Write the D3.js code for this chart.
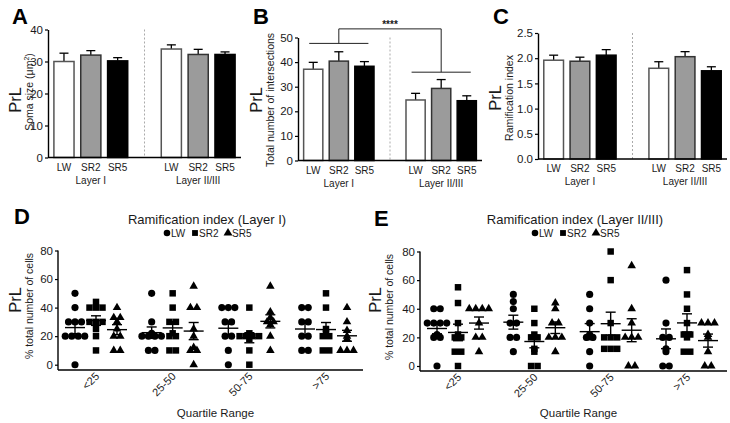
<!DOCTYPE html>
<html><head><meta charset="utf-8">
<script src="https://cdn.jsdelivr.net/npm/d3@7"></script>
<style>body{margin:0;background:#fff}svg{display:block;font-family:"Liberation Sans",Arial,sans-serif}</style>
</head><body><svg id="c" width="730" height="423"></svg>
<script>
// ---------- data ----------
const groups = ["LW", "SR2", "SR5"];
const layers = ["Layer I", "Layer II/III"];
// order: Layer I LW, SR2, SR5, Layer II/III LW, SR2, SR5
const somaMean = [30.0, 32.0, 30.2, 33.9, 32.2, 32.2];
const somaSem  = [2.6, 1.4, 1.0, 1.3, 1.6, 0.8];
const interMean = [37.1, 40.4, 38.3, 24.6, 29.3, 24.3];
const interSem  = [2.8, 3.8, 1.9, 2.7, 3.6, 2.0];
const ramMean = [1.96, 1.94, 2.06, 1.80, 2.03, 1.75];
const ramSem  = [0.10, 0.08, 0.11, 0.13, 0.10, 0.08];
const somaTicks = [0, 10, 20, 30, 40];
const interTicks = [0, 10, 20, 30, 40, 50];
const ramTicks = [0, 0.5, 1.0, 1.5, 2.0, 2.5];
// significance bracket levels in panel B (data units)
const sigLayerLevels = [47.6, 35.9];
const sigTopLevel = 53.5;

const quartiles = ["<25", "25-50", "50-75", ">75"];
const pctTicks = [0, 20, 40, 60, 80];
// Panel D: Layer I  (per quartile, per group)
const dLW  = [[50,40,30,30,30,20,20,20,20,0],[50,30,22,20,20,20,20,10,10],[40,40,40,30,30,20,20,10,0],[40,40,30,30,20,20,10,10]];
const dSR2 = [[44,40,40,40,30,30,30,25,20,10],[50,40,30,30,22,20,20,10,10],[40,22,20,20,20,20,18,10,0],[50,40,25,22,20,20,10,10]];
const dSR5 = [[40,33,33,30,25,20,20,10,10],[55,40,40,25,20,12,10,10,0],[55,37,33,30,30,28,20,10],[40,30,24,20,18,10,10,10]];
// Panel E: Layer II/III
const eLW  = [[40,40,30,30,30,30,22,20,20,0],[50,45,40,30,30,20,20,10],[50,40,30,22,20,20,10,0],[60,30,20,20,12,10,0,0]];
const eSR2 = [[55,44,30,22,20,20,10,10,0],[40,30,22,20,20,12,10,0,0],[80,60,30,20,20,20,12,12,12],[67,50,40,30,22,22,20,10,10]];
const eSR5 = [[40,40,40,40,30,20,20,10],[44,40,30,30,20,20,20,10],[70,40,30,20,20,20,0,0],[30,30,30,22,20,10,0,0]];

// ---------- drawing ----------
const svg = d3.select("#c");
const ink = "#1a1a1a";
const fills = {LW: "#ffffff", SR2: "#9b9b9b", SR5: "#000000"};
const strokes = {LW: "#555", SR2: "#333", SR5: "#000"};

function letter(t, x, y) {
  svg.append("text").attr("x", x).attr("y", y).attr("font-size", 22).attr("font-weight", "bold")
    .attr("fill", "#000").text(t);
}
function ylabels(prlX, subX, cy, sub, supText, prlY) {
  svg.append("text").attr("transform", `translate(${prlX},${prlY || cy}) rotate(-90)`).attr("text-anchor", "middle")
    .attr("font-size", 16.5).attr("fill", ink).text("PrL");
  const t = svg.append("text").attr("transform", `translate(${subX},${cy}) rotate(-90)`).attr("text-anchor", "middle")
    .attr("font-size", 10.5).attr("fill", ink).text(sub);
  if (supText) {
    t.append("tspan").attr("font-size", 7).attr("dy", -4).text(supText);
    t.append("tspan").attr("dy", 4).text(")");
  }
}

function barPanel(o) {
  const slots = ["I|LW", "I|SR2", "I|SR5", "gap", "II|LW", "II|SR2", "II|SR5"];
  const x = d3.scaleBand().domain(slots).range([o.x0, o.x1]).paddingInner(0.25).paddingOuter(0.22);
  const y = d3.scaleLinear().domain([0, o.max]).range([o.yb, o.yt]);
  const g = svg.append("g");
  g.append("line").attr("x1", x("gap") + x.bandwidth() / 2).attr("x2", x("gap") + x.bandwidth() / 2)
    .attr("y1", y(o.max)).attr("y2", y(0)).attr("stroke", "#aaa").attr("stroke-dasharray", "2,2");
  const data = [];
  ["I", "II"].forEach((L, li) => groups.forEach((s, si) => data.push({key: L + "|" + s, s, m: o.means[li * 3 + si], e: o.sems[li * 3 + si]})));
  data.forEach(d => {
    const cx = x(d.key) + x.bandwidth() / 2;
    g.append("line").attr("x1", cx).attr("x2", cx).attr("y1", y(d.m)).attr("y2", y(d.m + d.e)).attr("stroke", "#000").attr("stroke-width", 1.3);
    g.append("line").attr("x1", cx - 4.5).attr("x2", cx + 4.5).attr("y1", y(d.m + d.e)).attr("y2", y(d.m + d.e)).attr("stroke", "#000").attr("stroke-width", 1.3);
  });
  g.selectAll("rect.b").data(data).join("rect")
    .attr("x", d => x(d.key)).attr("width", x.bandwidth())
    .attr("y", d => y(d.m)).attr("height", d => y(0) - y(d.m))
    .attr("fill", d => fills[d.s]).attr("stroke", d => strokes[d.s]).attr("stroke-width", 1.5);
  const ax = g.append("g").attr("transform", `translate(${o.x0},0)`)
    .call(d3.axisLeft(y).tickValues(o.ticks).tickFormat(o.fmt).tickSize(3).tickSizeOuter(0).tickPadding(2));
  ax.select(".domain").attr("stroke", "#000").attr("stroke-width", 1.4);
  ax.selectAll(".tick line").attr("stroke", "#000").attr("stroke-width", 1.2);
  ax.selectAll(".tick text").attr("font-size", 11.5).attr("fill", ink).attr("font-family", "Liberation Sans, Arial, sans-serif");
  g.append("line").attr("x1", o.x0).attr("x2", o.x1).attr("y1", y(0)).attr("y2", y(0)).attr("stroke", "#000").attr("stroke-width", 1.4);
  data.forEach(d => {
    g.append("text").attr("x", x(d.key) + x.bandwidth() / 2).attr("y", y(0) + 13).attr("text-anchor", "middle")
      .attr("font-size", 10).attr("fill", ink).text(d.s);
  });
  ["I", "II"].forEach((L, li) => {
    g.append("text").attr("x", x(L + "|SR2") + x.bandwidth() / 2).attr("y", y(0) + 26).attr("text-anchor", "middle")
      .attr("font-size", 10).attr("fill", ink).text(layers[li]);
  });
  return {x, y, g};
}

// Panel A
letter("A", 12, 24);
ylabels(21, 33, 92, "Soma size (μm", "2", 100);
barPanel({x0: 48, x1: 241, yb: 157.5, yt: 29.5, max: 40, ticks: somaTicks, fmt: d3.format("d"), means: somaMean, sems: somaSem});

// Panel B
letter("B", 253, 24);
ylabels(262, 274, 100, "Total number of intersections");
const B = barPanel({x0: 298, x1: 482, yb: 160.5, yt: 37.5, max: 50, ticks: interTicks, fmt: d3.format("d"), means: interMean, sems: interSem});
(function () {
  const {x, y, g} = B; const bw = x.bandwidth();
  ["I", "II"].forEach((L, li) => {
    g.append("line").attr("x1", x(L + "|LW") + bw / 2 - 4).attr("x2", x(L + "|SR5") + bw / 2 + 4)
      .attr("y1", y(sigLayerLevels[li])).attr("y2", y(sigLayerLevels[li])).attr("stroke", "#222").attr("stroke-width", 1);
    g.append("line").attr("x1", x(L + "|SR2") + bw / 2).attr("x2", x(L + "|SR2") + bw / 2)
      .attr("y1", y(sigLayerLevels[li])).attr("y2", y(sigTopLevel)).attr("stroke", "#222").attr("stroke-width", 1);
  });
  g.append("line").attr("x1", x("I|SR2") + bw / 2).attr("x2", x("II|SR2") + bw / 2)
    .attr("y1", y(sigTopLevel)).attr("y2", y(sigTopLevel)).attr("stroke", "#222").attr("stroke-width", 1);
  g.append("text").attr("x", x("gap") + bw / 2).attr("y", y(sigTopLevel) - 1).attr("text-anchor", "middle")
    .attr("font-size", 10).attr("font-weight", "bold").attr("fill", ink).text("****");
})();

// Panel C
letter("C", 493, 24);
ylabels(501, 513, 98, "Ramification index");
barPanel({x0: 538, x1: 727, yb: 159, yt: 33, max: 2.5, ticks: ramTicks, fmt: d3.format(".1f"), means: ramMean, sems: ramSem});

// ---------- scatter panels ----------
const symbols = {LW: d3.symbolCircle, SR2: d3.symbolSquare, SR5: d3.symbolTriangle};
const symSize = {LW: 40, SR2: 42, SR5: 32};
const legendOffsets = {LW: -40, SR2: -12, SR5: 21};

function scatterPanel(o) {
  const g = svg.append("g");
  const xc = d3.scalePoint().domain(quartiles).range([o.c0, o.c1]);
  const xs = d3.scalePoint().domain(groups).range([-21, 21]);
  const y = d3.scaleLinear().domain([0, 80]).range([o.yb, o.yt]);
  g.append("text").attr("x", o.tx).attr("y", 224).attr("text-anchor", "middle").attr("font-size", 13).attr("fill", ink).text(o.title);
  groups.forEach(s => {
    const lx = o.tx + legendOffsets[s];
    g.append("path").attr("d", d3.symbol(symbols[s], 34)()).attr("transform", `translate(${lx},233)`).attr("fill", "#000");
    g.append("text").attr("x", lx + 4).attr("y", 236.5).attr("font-size", 10).attr("fill", ink).text(s);
  });
  const ax = g.append("g").attr("transform", `translate(${o.x0},0)`)
    .call(d3.axisLeft(y).tickValues(pctTicks).tickSize(3).tickSizeOuter(0).tickPadding(2));
  ax.select(".domain").attr("stroke", "#000").attr("stroke-width", 1.4).attr("d", `M0,${y(80)}V${o.xa}`);
  ax.selectAll(".tick line").attr("stroke", "#000").attr("stroke-width", 1.2);
  ax.selectAll(".tick text").attr("font-size", 11.5).attr("fill", ink).attr("font-family", "Liberation Sans, Arial, sans-serif");
  g.append("line").attr("x1", o.x0).attr("x2", o.x1).attr("y1", o.xa).attr("y2", o.xa).attr("stroke", "#000").attr("stroke-width", 1.4);
  quartiles.forEach(q => {
    g.append("text").attr("transform", `translate(${xc(q) + 4},${o.xa + 7}) rotate(-45)`).attr("text-anchor", "end")
      .attr("font-size", 11).attr("fill", ink).text(q);
  });
  g.append("text").attr("x", (o.x0 + o.x1) / 2 + 5).attr("y", 417).attr("text-anchor", "middle").attr("font-size", 11.5).attr("fill", ink).text("Quartile Range");
  groups.forEach((s, si) => {
    o.sets[si].forEach((vals, qi) => {
      const q = quartiles[qi];
      const cx = xc(q) + xs(s);
      const counts = d3.rollup(vals, v => v.length, v => v);
      const seen = new Map();
      vals.forEach(v => {
        const m = counts.get(v); const k = seen.get(v) || 0; seen.set(v, k + 1);
        const dx = (k - (m - 1) / 2) * 6.5;
        g.append("path").attr("d", d3.symbol(symbols[s], symSize[s])()).attr("transform", `translate(${cx + dx},${y(v)})`).attr("fill", "#000");
      });
      const mean = d3.mean(vals), sem = d3.deviation(vals) / Math.sqrt(vals.length);
      const line = (x1, x2, y1, y2) => g.append("line").attr("x1", x1).attr("x2", x2).attr("y1", y1).attr("y2", y2).attr("stroke", "#000").attr("stroke-width", 1.4);
      line(cx - 10, cx + 10, y(mean), y(mean));
      line(cx, cx, y(mean - sem), y(mean + sem));
      line(cx - 5, cx + 5, y(mean - sem), y(mean - sem));
      line(cx - 5, cx + 5, y(mean + sem), y(mean + sem));
    });
  });
}

letter("D", 14, 224);
ylabels(21, 33, 306, "% total number of cells", null, 300);
scatterPanel({x0: 58, x1: 363, c0: 96, c1: 326, yb: 364.7, yt: 250.5, xa: 370, tx: 207, title: "Ramification index (Layer I)", sets: [dLW, dSR2, dSR5]});

letter("E", 374, 226);
ylabels(381, 393, 307, "% total number of cells", null, 300);
scatterPanel({x0: 420, x1: 727, c0: 458, c1: 687, yb: 366, yt: 251.5, xa: 371, tx: 575, title: "Ramification index (Layer II/III)", sets: [eLW, eSR2, eSR5]});
</script></body></html>
